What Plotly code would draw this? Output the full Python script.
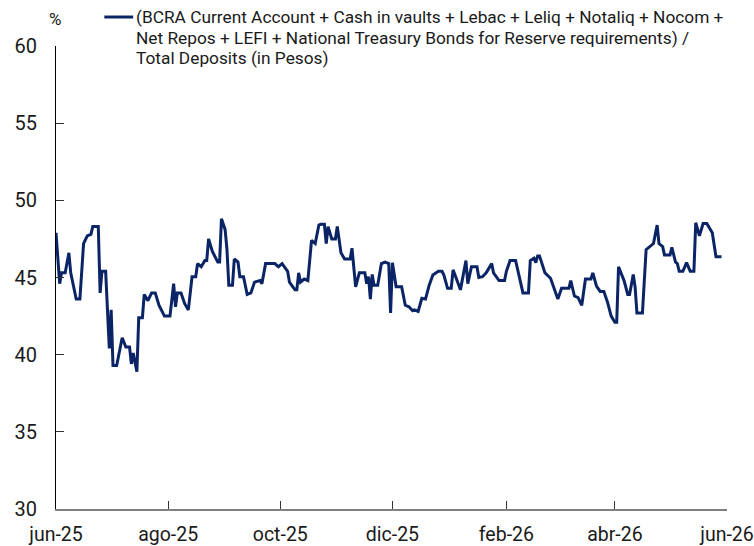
import plotly.graph_objects as go

dates = [
    "2025-06-01", "2025-06-03", "2025-06-04", "2025-06-06", "2025-06-08", "2025-06-09",
    "2025-06-12", "2025-06-14", "2025-06-16", "2025-06-18", "2025-06-20", "2025-06-21",
    "2025-06-24", "2025-06-25", "2025-06-26", "2025-06-28", "2025-06-30", "2025-07-01",
    "2025-07-02", "2025-07-04", "2025-07-05", "2025-07-07", "2025-07-09", "2025-07-11",
    "2025-07-12", "2025-07-13", "2025-07-15", "2025-07-16", "2025-07-18", "2025-07-19",
    "2025-07-21", "2025-07-23", "2025-07-25", "2025-07-27", "2025-07-30", "2025-08-02",
    "2025-08-04", "2025-08-05", "2025-08-06", "2025-08-08", "2025-08-10", "2025-08-12",
    "2025-08-14", "2025-08-16", "2025-08-17", "2025-08-19", "2025-08-21", "2025-08-22",
    "2025-08-23", "2025-08-25", "2025-08-28", "2025-08-29", "2025-08-30", "2025-09-01",
    "2025-09-02", "2025-09-03", "2025-09-05", "2025-09-06", "2025-09-08", "2025-09-09",
    "2025-09-11", "2025-09-13", "2025-09-15", "2025-09-17", "2025-09-20", "2025-09-21",
    "2025-09-23", "2025-09-28", "2025-09-30", "2025-10-02", "2025-10-05", "2025-10-06",
    "2025-10-09", "2025-10-10", "2025-10-11", "2025-10-12", "2025-10-14", "2025-10-16",
    "2025-10-18", "2025-10-20", "2025-10-22", "2025-10-23", "2025-10-25", "2025-10-26",
    "2025-10-27", "2025-10-29", "2025-10-31", "2025-11-01", "2025-11-03", "2025-11-05",
    "2025-11-08", "2025-11-09", "2025-11-11", "2025-11-13", "2025-11-16", "2025-11-17",
    "2025-11-18", "2025-11-19", "2025-11-20", "2025-11-21", "2025-11-23", "2025-11-25",
    "2025-11-27", "2025-11-29", "2025-11-30", "2025-12-01", "2025-12-03", "2025-12-06",
    "2025-12-08", "2025-12-10", "2025-12-12", "2025-12-13", "2025-12-15", "2025-12-17",
    "2025-12-19", "2025-12-21", "2025-12-23", "2025-12-26", "2025-12-28", "2025-12-29",
    "2025-12-31", "2026-01-02", "2026-01-03", "2026-01-07", "2026-01-10", "2026-01-11",
    "2026-01-13", "2026-01-16", "2026-01-17", "2026-01-19", "2026-01-21", "2026-01-24",
    "2026-01-25", "2026-01-28", "2026-01-31", "2026-02-01", "2026-02-03", "2026-02-06",
    "2026-02-10", "2026-02-13", "2026-02-14", "2026-02-16", "2026-02-17", "2026-02-18",
    "2026-02-19", "2026-02-22", "2026-02-25", "2026-03-01", "2026-03-03", "2026-03-07",
    "2026-03-08", "2026-03-10", "2026-03-12", "2026-03-14", "2026-03-16", "2026-03-19",
    "2026-03-20", "2026-03-22", "2026-03-24", "2026-03-26", "2026-03-28", "2026-03-30",
    "2026-04-01", "2026-04-02", "2026-04-03", "2026-04-06", "2026-04-08", "2026-04-09",
    "2026-04-11", "2026-04-12", "2026-04-13", "2026-04-16", "2026-04-18", "2026-04-20",
    "2026-04-22", "2026-04-24", "2026-04-25", "2026-04-27", "2026-04-28", "2026-05-01",
    "2026-05-02", "2026-05-04", "2026-05-05", "2026-05-06", "2026-05-08", "2026-05-10",
    "2026-05-12", "2026-05-14", "2026-05-15", "2026-05-17", "2026-05-19", "2026-05-21",
    "2026-05-24", "2026-05-26", "2026-05-29",
]

ratio = [
    47.9, 44.6, 45.3, 45.3, 46.6, 45.3,
    43.6, 43.6, 47.2, 47.7, 47.8, 48.3,
    48.3, 44.0, 45.4, 45.4, 40.4, 42.9,
    39.3, 39.3, 39.9, 41.1, 40.5, 40.5,
    39.4, 40.1, 38.9, 42.4, 42.4, 43.9,
    43.5, 44.0, 44.0, 43.2, 42.5, 42.5,
    44.6, 43.1, 44.0, 44.0, 43.3, 42.9,
    45.05, 45.05, 45.9, 45.7, 46.1, 46.1,
    47.5, 46.7, 46.0, 46.0, 48.8, 48.1,
    46.8, 44.5, 44.5, 46.2, 46.0, 45.05,
    45.05, 43.9, 44.0, 44.7, 44.8, 44.6,
    45.9, 45.9, 45.7, 45.9, 45.4, 44.7,
    44.2, 44.2, 45.3, 44.7, 44.9, 44.8,
    47.4, 47.2, 48.4, 48.45, 48.45, 47.2,
    48.3, 47.5, 47.5, 48.3, 46.6, 46.2,
    46.2, 46.9, 44.4, 45.3, 45.3, 44.6,
    45.05, 43.6, 45.2, 44.5, 44.5, 45.9,
    46.0, 45.9, 42.7, 45.96, 44.4, 44.4,
    43.2, 43.1, 42.85, 42.9, 42.8, 43.65,
    43.6, 44.5, 45.16, 45.4, 45.4, 45.16,
    44.3, 44.3, 45.5, 44.2, 46.1, 44.6,
    45.7, 45.7, 45.0, 45.05, 45.3, 45.9,
    45.3, 44.8, 44.8, 45.4, 46.1, 46.1,
    44.0, 44.0, 46.1, 46.25, 45.96, 46.4,
    46.4, 45.3, 44.95, 43.6, 44.3, 44.3,
    44.8, 43.8, 43.7, 43.2, 44.9, 44.9,
    45.3, 44.45, 44.1, 44.1, 43.4, 42.5,
    42.1, 42.1, 45.7, 44.8, 43.9, 43.9,
    45.2, 44.4, 42.7, 42.7, 46.8, 47.0,
    47.2, 48.4, 47.2, 47.0, 46.45, 46.45,
    46.95, 46.0, 45.9, 45.4, 45.4, 45.96,
    45.4, 45.4, 48.55, 47.7, 48.5, 48.5,
    47.9, 46.35, 46.35,
]

legend_lines = [
    "(BCRA Current Account + Cash in vaults + Lebac + Leliq + Notaliq + Nocom +",
    "Net Repos + LEFI + National Treasury Bonds for Reserve requirements) /",
    "Total Deposits (in Pesos)",
]
series_name = " ".join(legend_lines)

tick_dates = ["2025-06-01", "2025-08-01", "2025-10-01", "2025-12-01",
              "2026-02-01", "2026-04-01", "2026-06-01"]
tick_labels = ["jun-25", "ago-25", "oct-25", "dic-25", "feb-26", "abr-26", "jun-26"]
y_ticks = [30, 35, 40, 45, 50, 55, 60]

FONT = "Roboto"
NAVY = "#0b2466"
TEXT = "#1a1a1a"

fig = go.Figure()
fig.add_trace(go.Scatter(
    x=dates, y=ratio, mode="lines", name=series_name, showlegend=False,
    line=dict(color=NAVY, width=3),
))

# legend block (symbol + three text lines), placed in paper coordinates
legend_y = [1.0626, 1.0173, 0.974]
annotations = [dict(
    text=t, xref="paper", yref="paper", x=0.116, y=yy,
    xanchor="left", yanchor="middle", showarrow=False,
    font=dict(family=FONT, size=17.3, color=TEXT),
) for t, yy in zip(legend_lines, legend_y)]
annotations.append(dict(
    text="%", xref="paper", yref="paper", x=-0.002, y=1.058,
    xanchor="center", yanchor="middle", showarrow=False,
    font=dict(family=FONT, size=17, color=TEXT),
))

fig.update_layout(
    width=754, height=546,
    margin=dict(l=56, r=27, t=46, b=37, autoexpand=False),
    paper_bgcolor="white", plot_bgcolor="white",
    font=dict(family=FONT, color=TEXT, size=17),
    showlegend=False,
    xaxis=dict(
        type="date", range=["2025-06-01", "2026-06-01"],
        tickmode="array", tickvals=tick_dates, ticktext=tick_labels,
        ticks="inside", ticklen=8, tickcolor="#333", tickwidth=1,
        showline=True, linecolor="#808080", linewidth=2,
        showgrid=False, zeroline=False, automargin=False,
        tickfont=dict(family=FONT, size=19.5, color=TEXT),
        ticklabelstandoff=7, ticklabeloverflow="allow",
    ),
    yaxis=dict(
        range=[30, 60], tickmode="array", tickvals=y_ticks,
        ticks="inside", ticklen=8, tickcolor="#333", tickwidth=1,
        showline=True, linecolor="#000", linewidth=1,
        showgrid=False, zeroline=False, automargin=False,
        tickfont=dict(family=FONT, size=20, color=TEXT),
        ticklabelstandoff=14, ticklabeloverflow="allow",
    ),
    annotations=annotations,
    shapes=[dict(
        type="line", xref="paper", yref="paper",
        x0=0.072, x1=0.115, y0=1.0626, y1=1.0626,
        line=dict(color=NAVY, width=3),
    )],
)

fig.write_html(
    "out.html",
    config={"displayModeBar": False},
    post_script=(
        "document.body.style.margin='0';"
        "document.body.style.overflow='hidden';"
        "document.documentElement.style.overflow='hidden';"
    ),
)
